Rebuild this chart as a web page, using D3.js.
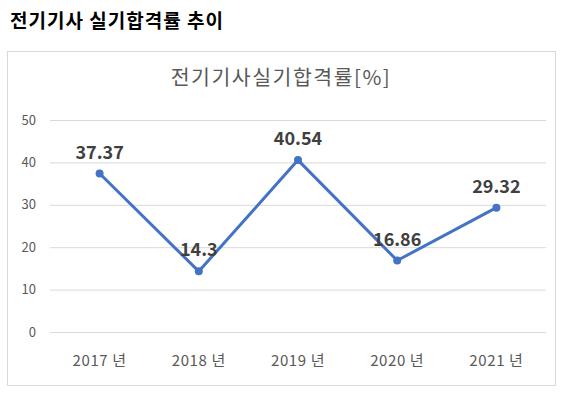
<!DOCTYPE html>
<html>
<head>
<meta charset="utf-8">
<script src="https://cdn.jsdelivr.net/npm/d3@7"></script>
<style>
  body { margin: 0; background: #fff; }
  text { font-family: "Noto Sans CJK KR", "Noto Sans", sans-serif; }
</style>
</head>
<body>
<div id="chart"></div>
<script>
// data
const years = ["2017 년", "2018 년", "2019 년", "2020 년", "2021 년"];
const passRates = [37.37, 14.3, 40.54, 16.86, 29.32];
const yTicks = [0, 10, 20, 30, 40, 50];

const W = 568, H = 399;
const plot = { left: 50, right: 546, top: 120, bottom: 332 };

const svg = d3.select("#chart").append("svg")
  .attr("width", W)
  .attr("height", H);

// page heading
svg.append("text")
  .attr("x", 10)
  .attr("y", 28)
  .attr("font-size", 19)
  .attr("font-weight", "bold")
  .attr("letter-spacing", 1)
  .attr("fill", "#000")
  .text("전기기사 실기합격률 추이");

// chart frame
svg.append("rect")
  .attr("x", 7.5)
  .attr("y", 51.5)
  .attr("width", 548)
  .attr("height", 334)
  .attr("fill", "#fff")
  .attr("stroke", "#d9d9d9");

svg.append("text")
  .attr("x", 281)
  .attr("y", 85)
  .attr("text-anchor", "middle")
  .attr("font-size", 20.5)
  .attr("letter-spacing", 1.5)
  .attr("fill", "#595959")
  .text("전기기사실기합격률[%]");

const x = d3.scaleBand()
  .domain(years)
  .range([plot.left, plot.right]);

const y = d3.scaleLinear()
  .domain([0, 50])
  .range([plot.bottom, plot.top]);

// gridlines + y labels
const yAxis = svg.append("g")
  .attr("transform", `translate(${plot.left},0)`)
  .call(d3.axisLeft(y).tickValues(yTicks).tickSize(-(plot.right - plot.left)).tickPadding(14));
yAxis.select(".domain").remove();
yAxis.selectAll("line").attr("stroke", "#d9d9d9");
yAxis.selectAll("text")
  .attr("font-size", 13)
  .attr("fill", "#595959");

// x labels
const xAxis = svg.append("g")
  .attr("transform", `translate(0,${plot.bottom})`)
  .call(d3.axisBottom(x).tickSize(0).tickPadding(23));
xAxis.select(".domain").remove();
xAxis.selectAll("text")
  .attr("font-size", 15)
  .attr("letter-spacing", 0.6)
  .attr("fill", "#595959");

const cx = (d, i) => x(years[i]) + x.bandwidth() / 2;

const line = d3.line()
  .x((d, i) => cx(d, i))
  .y(d => y(d));

svg.append("path")
  .datum(passRates)
  .attr("d", line)
  .attr("fill", "none")
  .attr("stroke", "#4472c4")
  .attr("stroke-width", 3)
  .attr("stroke-linejoin", "round");

svg.selectAll(".dot")
  .data(passRates)
  .enter()
  .append("circle")
    .attr("cx", cx)
    .attr("cy", d => y(d))
    .attr("r", 4)
    .attr("fill", "#4472c4");

svg.selectAll(".lbl")
  .data(passRates)
  .enter()
  .append("text")
    .attr("x", cx)
    .attr("y", d => y(d) - 15)
    .attr("text-anchor", "middle")
    .attr("font-size", 18)
    .attr("font-weight", "bold")
    .attr("fill", "#404040")
    .text(d => d);
</script>
</body>
</html>
